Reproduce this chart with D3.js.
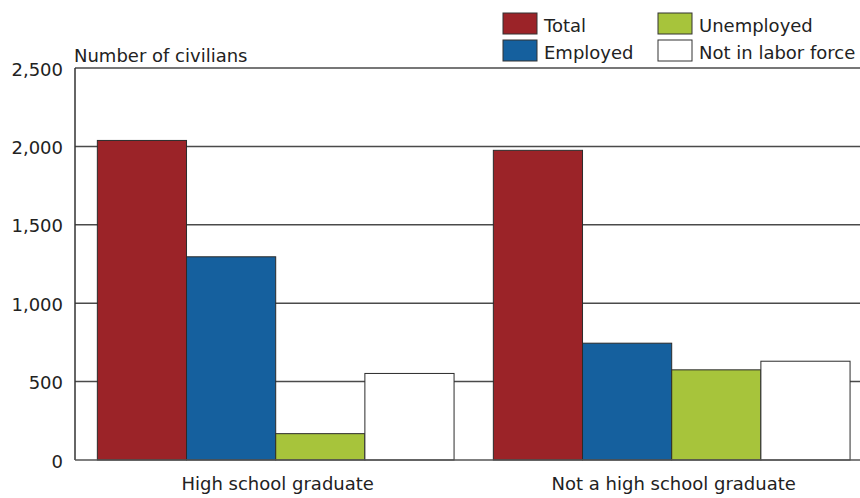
<!DOCTYPE html>
<html><head><meta charset="utf-8">
<script src="https://cdn.jsdelivr.net/npm/d3@7"></script>
<style>body{margin:0;background:#fff}svg{display:block;font-family:"DejaVu Sans",sans-serif}</style>
</head><body>
<svg id="c" width="860" height="498"></svg>
<script>
const categories = ["High school graduate", "Not a high school graduate"];
const seriesNames = ["Total", "Employed", "Unemployed", "Not in labor force"];
const seriesColors = ["#9b2328", "#15609e", "#a7c43b", "#ffffff"];
const total = [2038, 1975];
const employed = [1296, 745];
const unemployed = [168, 575];
const notInLaborForce = [552, 630];
const yTicks = [0, 500, 1000, 1500, 2000, 2500];
const yTitle = "Number of civilians";

const seriesValues = [total, employed, unemployed, notInLaborForce];
const svg = d3.select("#c");
const left = 75, right = 860;
const y = d3.scaleLinear().domain([0, 2500]).range([460, 68]);
const x0 = d3.scaleBand().domain(categories).range([77.7, 869.7]).paddingInner(0.0992).paddingOuter(0.0496);
const x1 = d3.scaleBand().domain(seriesNames).range([0, x0.bandwidth()]);

// gridlines
svg.append("g").selectAll("line").data(yTicks.filter(d => d > 0)).join("line")
  .attr("x1", left).attr("x2", right)
  .attr("y1", d => y(d)).attr("y2", d => y(d))
  .attr("stroke", "#4a4a4a").attr("stroke-width", 1.5);

// tick labels
svg.append("g").selectAll("text").data(yTicks).join("text")
  .attr("x", 63).attr("y", d => y(d) + 7.5)
  .attr("text-anchor", "end").attr("font-size", 18).attr("fill", "#222")
  .text(d => d3.format(",")(d));

// bars
const rows = [];
categories.forEach((c, i) => seriesNames.forEach((s, j) => rows.push({c, s, j, v: seriesValues[j][i]})));
svg.append("g").selectAll("rect").data(rows).join("rect")
  .attr("x", d => x0(d.c) + x1(d.s))
  .attr("width", x1.bandwidth())
  .attr("y", d => y(d.v))
  .attr("height", d => y(0) - y(d.v))
  .attr("fill", d => seriesColors[d.j])
  .attr("stroke", "#2b2b2b").attr("stroke-width", 1);

// axes lines
svg.append("line").attr("x1", left).attr("x2", left).attr("y1", y(2500)).attr("y2", y(0))
  .attr("stroke", "#333").attr("stroke-width", 1.5);
svg.append("line").attr("x1", left).attr("x2", right).attr("y1", y(0)).attr("y2", y(0))
  .attr("stroke", "#555").attr("stroke-width", 1.5);

// x labels
svg.append("g").selectAll("text").data(categories).join("text")
  .attr("x", d => x0(d) + x0.bandwidth() / 2 + 2).attr("y", 490)
  .attr("text-anchor", "middle").attr("font-size", 18).attr("fill", "#222")
  .text(d => d);

// y title
svg.append("text").attr("x", 74).attr("y", 62).attr("font-size", 18).attr("fill", "#222").text(yTitle);

// legend
const legX = [503, 658], legY = [13, 40];
const leg = svg.append("g").selectAll("g").data(seriesNames).join("g")
  .attr("transform", (d, i) => `translate(${legX[Math.floor(i / 2)]},${legY[i % 2]})`);
leg.append("rect").attr("width", 34).attr("height", 21)
  .attr("fill", (d, i) => seriesColors[i]).attr("stroke", "#333").attr("stroke-width", 1);
leg.append("text").attr("x", 41).attr("y", 18.5).attr("font-size", 18).attr("fill", "#222").text(d => d);
</script>
</body></html>
